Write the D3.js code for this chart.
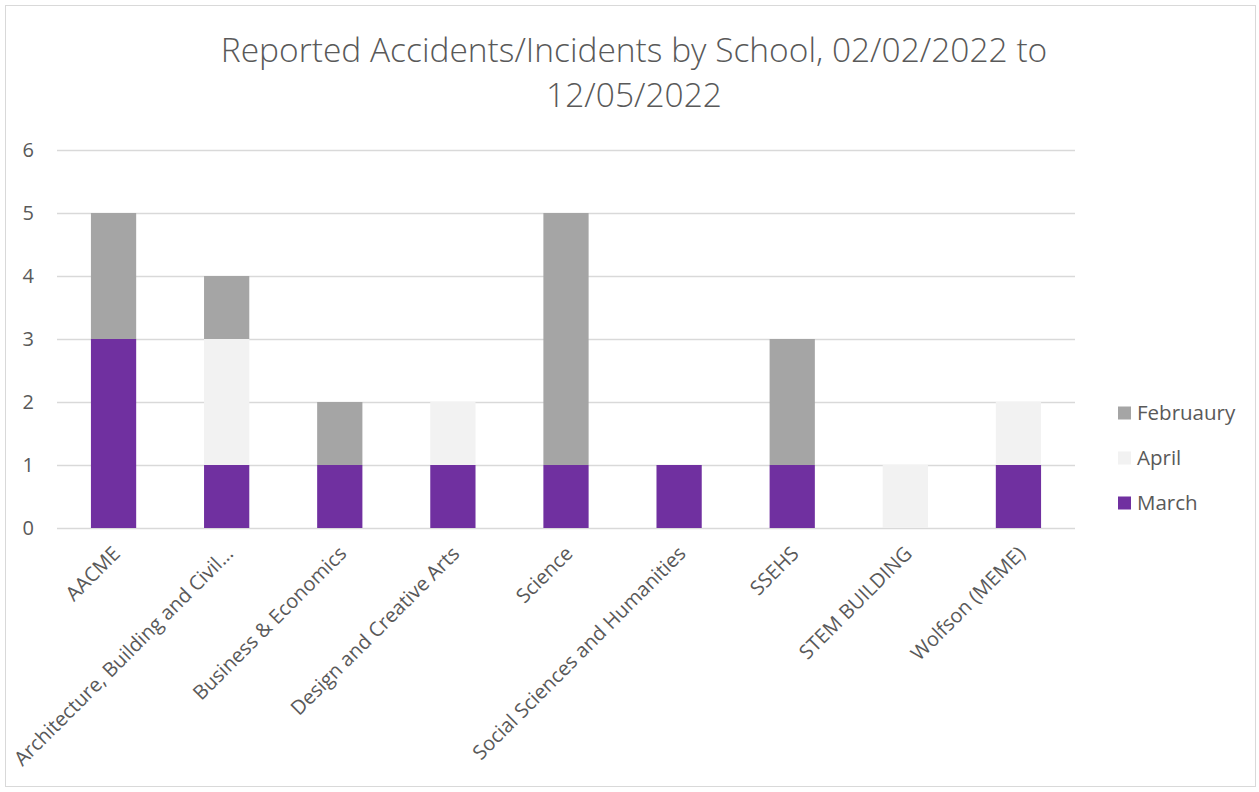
<!DOCTYPE html>
<html>
<head>
<meta charset="utf-8">
<script src="https://cdn.jsdelivr.net/npm/d3@7"></script>
<style>
  html, body { margin: 0; padding: 0; background: #fff; }
  svg { display: block; }
  text { font-family: "Open Sans", Lato, sans-serif; fill: #595959; }
</style>
</head>
<body>
<svg id="chart" width="1259" height="792"></svg>
<script>
// Schools on the x axis
const schools = [
  "AACME",
  "Architecture, Building and Civil...",
  "Business & Economics",
  "Design and Creative Arts",
  "Science",
  "Social Sciences and Humanities",
  "SSEHS",
  "STEM BUILDING",
  "Wolfson (MEME)"
];

// Incident counts per month, one value per school
const march    = [3, 1, 1, 1, 1, 1, 1, 0, 1];
const april    = [0, 2, 0, 1, 0, 0, 0, 1, 1];
const february = [2, 1, 1, 0, 4, 0, 2, 0, 0];

// Series in stacking order (bottom to top) and legend order (top to bottom)
const seriesKeys   = ["March", "April", "Februaury"];
const legendKeys   = ["Februaury", "April", "March"];
const seriesColors = { "March": "#7030A0", "April": "#F2F2F2", "Februaury": "#A5A5A5" };

const yTicks = [0, 1, 2, 3, 4, 5, 6];

const titleLines = ["Reported Accidents/Incidents by School, 02/02/2022 to", "12/05/2022"];

const rows = schools.map((s, i) => ({
  school: s,
  "March": march[i],
  "April": april[i],
  "Februaury": february[i]
}));

const labelSize = 20;

const svg = d3.select("#chart");

// Chart frame
svg.append("rect")
  .attr("x", 5.5).attr("y", 5.5)
  .attr("width", 1250).attr("height", 781)
  .attr("fill", "#fff").attr("stroke", "#D9D9D9").attr("stroke-width", 1);

const plot = { left: 57, right: 1075, top: 150, bottom: 528 };

const x = d3.scaleBand()
  .domain(schools)
  .range([plot.left, plot.right])
  .paddingInner(0.6)
  .paddingOuter(0.3);

const y = d3.scaleLinear()
  .domain([0, 6])
  .range([plot.bottom, plot.top]);

// Gridlines
svg.append("g")
  .selectAll("line")
  .data(yTicks)
  .join("line")
  .attr("x1", plot.left).attr("x2", plot.right)
  .attr("y1", d => Math.round(y(d)) + 0.5)
  .attr("y2", d => Math.round(y(d)) + 0.5)
  .attr("stroke", "#D9D9D9").attr("stroke-width", 1.5);

// Y axis labels
const yAxis = d3.axisLeft(y).tickValues(yTicks).tickFormat(d3.format("d")).tickSize(0).tickPadding(0);
svg.append("g")
  .attr("transform", `translate(${plot.left - 23},0)`)
  .call(yAxis)
  .call(g => g.select(".domain").remove())
  .selectAll("text")
  .attr("font-size", labelSize)
  .attr("font-family", "'Open Sans', sans-serif")
  .attr("fill", "#595959");

// Stacked bars
const stack = d3.stack().keys(seriesKeys);
const layers = stack(rows);

svg.append("g")
  .selectAll("g")
  .data(layers)
  .join("g")
  .attr("fill", d => seriesColors[d.key])
  .selectAll("rect")
  .data(d => d)
  .join("rect")
  .attr("x", d => x(d.data.school))
  .attr("width", x.bandwidth())
  .attr("y", d => y(d[1]))
  .attr("height", d => y(d[0]) - y(d[1]));

// Category labels, rotated
const xAxis = d3.axisBottom(x).tickSize(0).tickPadding(0);
svg.append("g")
  .attr("transform", `translate(0,${plot.bottom})`)
  .call(xAxis)
  .call(g => g.select(".domain").remove())
  .selectAll("text")
  .attr("font-size", labelSize)
  .attr("font-family", "'Open Sans', sans-serif")
  .attr("fill", "#595959")
  .attr("text-anchor", "end")
  .attr("dy", null)
  .attr("y", 0)
  .attr("transform", "translate(-4,15) rotate(-45)")
  .attr("dominant-baseline", "hanging");

// Title
svg.append("g")
  .selectAll("text")
  .data(titleLines)
  .join("text")
  .attr("x", 634)
  .attr("y", (d, i) => 62 + i * 45)
  .attr("text-anchor", "middle")
  .attr("font-size", 33.5)
  .attr("font-weight", 300)
  .attr("font-family", "'Open Sans', sans-serif")
  .attr("fill", "#595959")
  .text(d => d);

// Legend
const legend = svg.append("g")
  .selectAll("g")
  .data(legendKeys)
  .join("g")
  .attr("transform", (d, i) => `translate(1118,${413 + i * 45})`);

legend.append("rect")
  .attr("x", 0).attr("y", -6.5)
  .attr("width", 13).attr("height", 13)
  .attr("fill", d => seriesColors[d]);

legend.append("text")
  .attr("x", 19).attr("y", 0)
  .attr("dy", "0.35em")
  .attr("font-size", 20.5)
  .attr("fill", "#595959")
  .text(d => d);
</script>
</body>
</html>
